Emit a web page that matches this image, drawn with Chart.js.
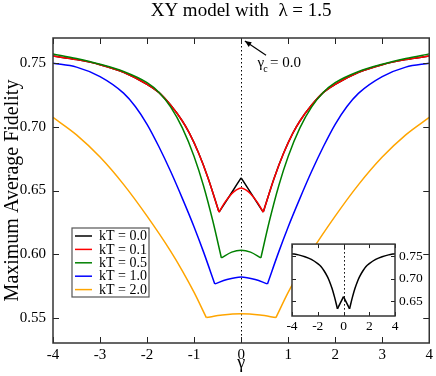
<!DOCTYPE html>
<html>
<head>
<meta charset="utf-8">
<script src="https://cdn.jsdelivr.net/npm/chart.js@4.4.0/dist/chart.umd.min.js"></script>
<style>
html, body { margin: 0; padding: 0; background: #fff; }
#wrap { position: relative; width: 436px; height: 376px; }
#main { position: absolute; left: 0; top: 0; }
#inset { position: absolute; left: 280px; top: 232px; }
</style>
</head>
<body>
<div id="wrap">
  <canvas id="main" width="436" height="376"></canvas>
  <canvas id="inset" width="156" height="104"></canvas>
</div>
<script>
// values
var seriesLabels = ['kT = 0.0', 'kT = 0.1', 'kT = 0.5', 'kT = 1.0', 'kT = 2.0'];
var seriesColors = ['#000000', '#ff0000', '#008000', '#0000ff', '#ffa500'];

var gamma_kT00 = [-4, -3.5, -3, -2.5, -2, -1.75, -1.5, -1.25, -1.1, -0.9, -0.7, -0.47, -0.25, 0, 0.25, 0.47, 0.7, 0.9, 1.1, 1.25, 1.5, 1.75, 2, 2.5, 3, 3.5, 4];
var fid_kT00 = [0.7558, 0.753, 0.749, 0.743, 0.7335, 0.7272, 0.7172, 0.7047, 0.6951, 0.6791, 0.6595, 0.633, 0.6455, 0.660, 0.6455, 0.633, 0.6595, 0.6791, 0.6951, 0.7047, 0.7172, 0.7272, 0.7335, 0.743, 0.749, 0.753, 0.7558];
var kinks_kT00 = [-0.47, 0, 0.47];

var gamma_kT01 = [-4, -3.5, -3, -2.5, -2, -1.75, -1.5, -1.25, -1.1, -0.9, -0.7, -0.47, -0.35, -0.2, -0.1, 0, 0.1, 0.2, 0.35, 0.47, 0.7, 0.9, 1.1, 1.25, 1.5, 1.75, 2, 2.5, 3, 3.5, 4];
var fid_kT01 = [0.7558, 0.753, 0.749, 0.743, 0.7335, 0.7272, 0.7172, 0.7047, 0.6951, 0.6791, 0.6595, 0.633, 0.6405, 0.6475, 0.6505, 0.652, 0.6505, 0.6475, 0.6405, 0.633, 0.6595, 0.6791, 0.6951, 0.7047, 0.7172, 0.7272, 0.7335, 0.743, 0.749, 0.753, 0.7558];
var kinks_kT01 = [-0.47, 0.47];

var gamma_kT05 = [-4, -3.5, -3, -2.5, -2, -1.75, -1.5, -1.25, -1, -0.8, -0.6, -0.42, -0.2, 0, 0.2, 0.42, 0.6, 0.8, 1, 1.25, 1.5, 1.75, 2, 2.5, 3, 3.5, 4];
var fid_kT05 = [0.7575, 0.7538, 0.7493, 0.7436, 0.7348, 0.7273, 0.7158, 0.6993, 0.6768, 0.6538, 0.6258, 0.597, 0.6015, 0.603, 0.6015, 0.597, 0.6258, 0.6538, 0.6768, 0.6993, 0.7158, 0.7273, 0.7348, 0.7436, 0.7493, 0.7538, 0.7575];
var kinks_kT05 = [-0.42, 0.42];

var gamma_kT10 = [-4, -3.5, -3, -2.5, -2.25, -2, -1.75, -1.5, -1.25, -1, -0.8, -0.56, -0.3, 0, 0.3, 0.56, 0.8, 1, 1.25, 1.5, 1.75, 2, 2.25, 2.5, 3, 3.5, 4];
var fid_kT10 = [0.7501, 0.7471, 0.7396, 0.7266, 0.7161, 0.7021, 0.6846, 0.6651, 0.6438, 0.6213, 0.6017, 0.5765, 0.580, 0.582, 0.580, 0.5765, 0.6017, 0.6213, 0.6438, 0.6651, 0.6846, 0.7021, 0.7161, 0.7266, 0.7396, 0.7471, 0.7501];
var kinks_kT10 = [-0.56, 0.56];

var gamma_kT20 = [-4, -3.5, -3, -2.5, -2, -1.5, -1.25, -1, -0.74, -0.4, 0, 0.4, 0.74, 1, 1.25, 1.5, 2, 2.5, 3, 3.5, 4];
var fid_kT20 = [0.7075, 0.6938, 0.6763, 0.6548, 0.6298, 0.6023, 0.5868, 0.5698, 0.550, 0.552, 0.553, 0.552, 0.550, 0.5698, 0.5868, 0.6023, 0.6298, 0.6548, 0.6763, 0.6938, 0.7075];
var kinks_kT20 = [-0.74, 0.74];

var xTicks = [-4, -3, -2, -1, 0, 1, 2, 3, 4];
var yTicks = [0.55, 0.60, 0.65, 0.70, 0.75];
var insetXTicks = [-4, -2, 0, 2, 4];
var insetYTicks = [0.65, 0.70, 0.75];

var serif = '"Liberation Serif", "DejaVu Serif", serif';

// cut a curve at its cusps so the smoothing keeps the corners sharp
function pieces(gs, fs, kinks) {
    var out = [], cur = [];
    gs.forEach(function (g, i) {
        cur.push({ x: g, y: fs[i] });
        if (kinks.indexOf(g) >= 0 && cur.length > 1) {
            out.push(cur);
            cur = [{ x: g, y: fs[i] }];
        }
    });
    if (cur.length > 1) out.push(cur);
    return out;
}

var allGamma = [gamma_kT00, gamma_kT01, gamma_kT05, gamma_kT10, gamma_kT20];
var allFid = [fid_kT00, fid_kT01, fid_kT05, fid_kT10, fid_kT20];
var allKinks = [kinks_kT00, kinks_kT01, kinks_kT05, kinks_kT10, kinks_kT20];

function lineSet(label, data, color, order) {
    return {
        label: label,
        data: data,
        borderColor: color,
        borderWidth: 1.5,
        pointRadius: 0,
        showLine: true,
        tension: 0.4,
        cubicInterpolationMode: 'monotone',
        fill: false,
        order: order
    };
}

var datasets = [];
seriesLabels.forEach(function (lab, i) {
    pieces(allGamma[i], allFid[i], allKinks[i]).forEach(function (p) {
        datasets.push(lineSet(lab, p, seriesColors[i], 4 - i));
    });
});

function inwardTicks(chart, xs, ys, len) {
    var ctx = chart.ctx, a = chart.chartArea;
    var sx = chart.scales.x, sy = chart.scales.y;
    ctx.save();
    ctx.strokeStyle = '#222';
    ctx.lineWidth = 1;
    ctx.beginPath();
    xs.forEach(function (v) {
        var p = Math.round(sx.getPixelForValue(v)) + 0.5;
        ctx.moveTo(p, a.bottom); ctx.lineTo(p, a.bottom - len);
        ctx.moveTo(p, a.top); ctx.lineTo(p, a.top + len);
    });
    ys.forEach(function (v) {
        var p = Math.round(sy.getPixelForValue(v)) + 0.5;
        ctx.moveTo(a.left, p); ctx.lineTo(a.left + len, p);
        ctx.moveTo(a.right, p); ctx.lineTo(a.right - len, p);
    });
    ctx.stroke();
    ctx.strokeStyle = '#333';
    ctx.lineWidth = 1.5;
    ctx.strokeRect(a.left, a.top, a.right - a.left, a.bottom - a.top);
    ctx.restore();
}

function dottedZero(chart) {
    var ctx = chart.ctx, a = chart.chartArea;
    var p = Math.round(chart.scales.x.getPixelForValue(0)) + 0.5;
    ctx.save();
    ctx.strokeStyle = '#000';
    ctx.lineWidth = 1;
    ctx.setLineDash([1.5, 2.5]);
    ctx.beginPath();
    ctx.moveTo(p, a.top); ctx.lineTo(p, a.bottom);
    ctx.stroke();
    ctx.restore();
}

var mainDecor = {
    id: 'mainDecor',
    beforeDraw: function (chart) {
        var ctx = chart.ctx;
        ctx.save();
        ctx.fillStyle = '#fff';
        ctx.fillRect(0, 0, chart.width, chart.height);
        ctx.restore();
    },
    beforeDatasetsDraw: function (chart) {
        dottedZero(chart);
    },
    afterDraw: function (chart) {
        var ctx = chart.ctx, a = chart.chartArea;
        var sx = chart.scales.x, sy = chart.scales.y;
        inwardTicks(chart, xTicks, yTicks, 6);

        // title
        ctx.save();
        ctx.fillStyle = '#000';
        ctx.font = '19px ' + serif;
        ctx.textAlign = 'center';
        ctx.textBaseline = 'middle';
        ctx.fillText('XY model with  \u03bb = 1.5', (a.left + a.right) / 2, 11);

        // critical point note with arrow
        var tipX = sx.getPixelForValue(0.08), tipY = sy.getPixelForValue(0.7676);
        var tailX = sx.getPixelForValue(0.53), tailY = sy.getPixelForValue(0.7565);
        ctx.strokeStyle = '#000';
        ctx.lineWidth = 1.2;
        ctx.beginPath();
        ctx.moveTo(tailX, tailY); ctx.lineTo(tipX, tipY);
        ctx.stroke();
        var ang = Math.atan2(tipY - tailY, tipX - tailX);
        ctx.beginPath();
        ctx.moveTo(tipX, tipY);
        ctx.lineTo(tipX - 7 * Math.cos(ang - 0.4), tipY - 7 * Math.sin(ang - 0.4));
        ctx.lineTo(tipX - 7 * Math.cos(ang + 0.4), tipY - 7 * Math.sin(ang + 0.4));
        ctx.closePath();
        ctx.fillStyle = '#000';
        ctx.fill();

        var tx = sx.getPixelForValue(0.35), ty = sy.getPixelForValue(0.7472);
        ctx.textAlign = 'left';
        ctx.textBaseline = 'alphabetic';
        ctx.font = '15px ' + serif;
        ctx.fillText('\u03b3', tx, ty);
        var w = ctx.measureText('\u03b3').width;
        ctx.font = '10px ' + serif;
        ctx.fillText('c', tx + w - 1, ty + 5);
        ctx.font = '15px ' + serif;
        ctx.fillText(' = 0.0', tx + w + 2, ty);

        // legend
        var lx = a.left + 19, ly = a.top + 190, lw = 77, lh = 69;
        ctx.fillStyle = '#fff';
        ctx.fillRect(lx, ly, lw, lh);
        ctx.strokeStyle = '#555';
        ctx.lineWidth = 1.2;
        ctx.strokeRect(lx, ly, lw, lh);
        ctx.font = '14px ' + serif;
        ctx.textBaseline = 'middle';
        seriesLabels.forEach(function (lab, i) {
            var yy = ly + 8 + i * 13.4;
            ctx.strokeStyle = seriesColors[i];
            ctx.lineWidth = 1.5;
            ctx.beginPath();
            ctx.moveTo(lx + 3, yy); ctx.lineTo(lx + 20, yy);
            ctx.stroke();
            ctx.fillStyle = '#000';
            ctx.fillText(lab, lx + 27, yy + 0.5);
        });
        ctx.restore();
    }
};

var mainChart = new Chart(document.getElementById('main'), {
    type: 'scatter',
    data: { datasets: datasets },
    options: {
        responsive: false,
        animation: false,
        devicePixelRatio: 1,
        layout: { padding: { left: 0, right: 6, top: 38, bottom: 0 } },
        plugins: { legend: { display: false }, tooltip: { enabled: false }, title: { display: false } },
        scales: {
            x: {
                type: 'linear', min: -4, max: 4,
                afterBuildTicks: function (s) { s.ticks = xTicks.map(function (v) { return { value: v }; }); },
                afterFit: function (s) { s.height = 33; },
                grid: { display: false, drawTicks: false },
                border: { display: false },
                ticks: { color: '#000', font: { family: serif, size: 15 }, padding: 3, maxRotation: 0,
                         callback: function (v) { return String(v); } },
                title: { display: true, text: '\u03b3', color: '#000', font: { family: serif, size: 18 }, padding: { top: 0, bottom: 2 } }
            },
            y: {
                type: 'linear', min: 0.53, max: 0.77,
                afterBuildTicks: function (s) { s.ticks = yTicks.map(function (v) { return { value: v }; }); },
                afterFit: function (s) { s.width = 53; },
                grid: { display: false, drawTicks: false },
                border: { display: false },
                ticks: { color: '#000', font: { family: serif, size: 15 }, padding: 7,
                         callback: function (v) { return Number(v).toFixed(2); } },
                title: { display: true, text: 'Maximum Average Fidelity', color: '#000', font: { family: serif, size: 20 }, padding: { top: 1, bottom: 0 } }
            }
        }
    },
    plugins: [mainDecor]
});

// inset: the kT = 0.0 curve alone
var insetDecor = {
    id: 'insetDecor',
    beforeDraw: function (chart) {
        var ctx = chart.ctx, a = chart.chartArea;
        ctx.save();
        ctx.fillStyle = '#fff';
        ctx.fillRect(a.left, a.top, a.right - a.left, a.bottom - a.top);
        ctx.restore();
    },
    beforeDatasetsDraw: function (chart) {
        dottedZero(chart);
    },
    afterDraw: function (chart) {
        inwardTicks(chart, insetXTicks, insetYTicks, 4);
    }
};

var insetSets = pieces(gamma_kT00, fid_kT00, kinks_kT00).map(function (p) {
    return lineSet(seriesLabels[0], p, seriesColors[0], 0);
});

var insetChart = new Chart(document.getElementById('inset'), {
    type: 'scatter',
    data: { datasets: insetSets },
    options: {
        responsive: false,
        animation: false,
        devicePixelRatio: 1,
        layout: { padding: { left: 12, right: 0, top: 8, bottom: 0 } },
        plugins: { legend: { display: false }, tooltip: { enabled: false } },
        scales: {
            x: {
                type: 'linear', min: -4, max: 4,
                afterBuildTicks: function (s) { s.ticks = insetXTicks.map(function (v) { return { value: v }; }); },
                afterFit: function (s) { s.height = 20; },
                grid: { display: false, drawTicks: false },
                border: { display: false },
                ticks: { color: '#000', font: { family: serif, size: 13.5 }, padding: 2, maxRotation: 0,
                         callback: function (v) { return String(v); } }
            },
            y: {
                type: 'linear', position: 'right', min: 0.617, max: 0.777,
                afterBuildTicks: function (s) { s.ticks = insetYTicks.map(function (v) { return { value: v }; }); },
                afterFit: function (s) { s.width = 41; },
                grid: { display: false, drawTicks: false },
                border: { display: false },
                ticks: { color: '#000', font: { family: serif, size: 13.5 }, padding: 4,
                         callback: function (v) { return Number(v).toFixed(2); } }
            }
        }
    },
    plugins: [insetDecor]
});
</script>
</body>
</html>
